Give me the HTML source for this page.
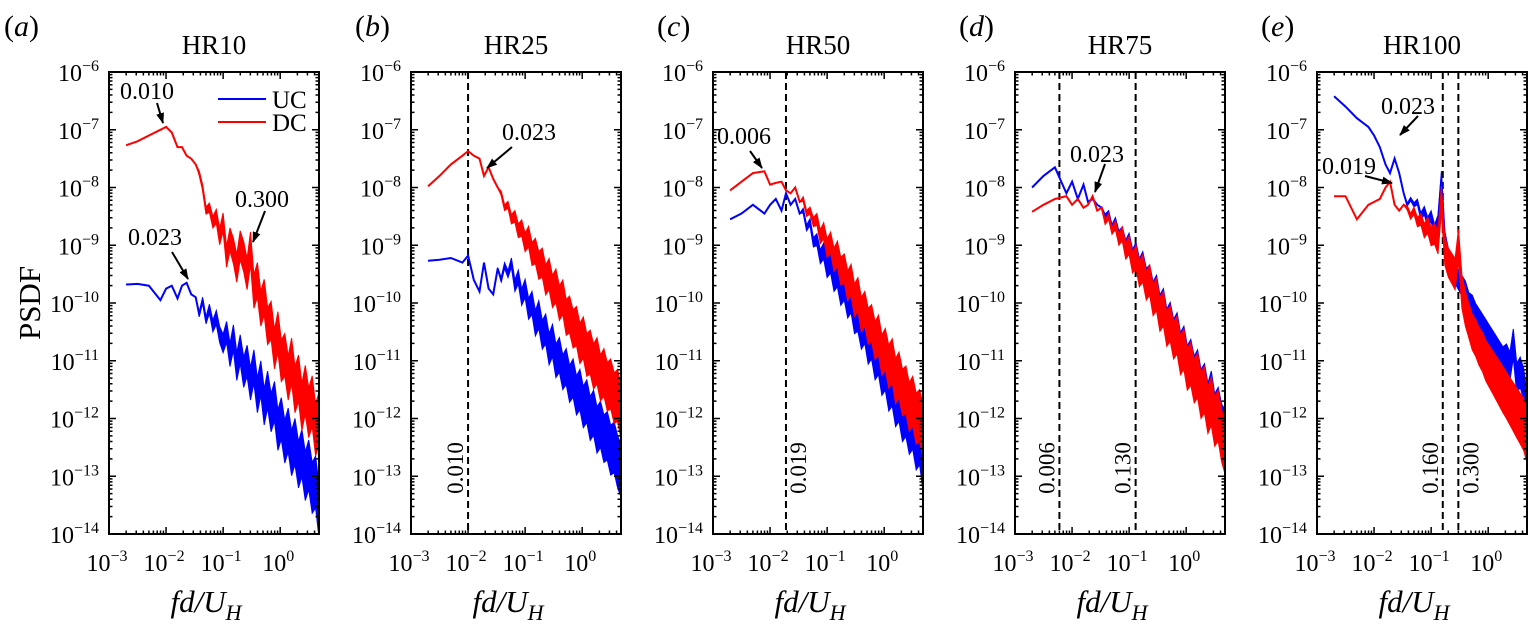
<!DOCTYPE html>
<html><head><meta charset="utf-8"><style>
html,body{margin:0;padding:0;background:#fff;}
svg{display:block;}
svg text{font-family:"Liberation Serif","DejaVu Serif",serif;}
</style></head><body>
<svg id="fig" width="1530" height="633" viewBox="0 0 1530 633"></svg>
<script>
const fx = [-2.7,-2.5,-2.3,-2.1,-2.0,-1.9,-1.8,-1.72,-1.64,-1.56,-1.48,-1.42,-1.36,-1.30,-1.24,-1.18,-1.12,-1.06,-1.00,-0.94,-0.88,-0.82,-0.76,-0.70,-0.64,-0.58,-0.52,-0.46,-0.40,-0.34,-0.28,-0.22,-0.16,-0.10,-0.04,0.02,0.08,0.14,0.20,0.26,0.32,0.38,0.44,0.50,0.56,0.62,0.68];
const noiseSpread = [0,0,0,0,0,0,0,0,0,0,0,0.04,0.05,0.06,0.08,0.1,0.12,0.14,0.16,0.18,0.2,0.22,0.24,0.25,0.26,0.27,0.28,0.29,0.3,0.3,0.31,0.32,0.33,0.34,0.35,0.36,0.37,0.38,0.39,0.4,0.4,0.41,0.42,0.43,0.44,0.45,0.46];
const aDC = [-7.27,-7.2,-7.1,-7.0,-6.95,-7.05,-7.3,-7.3,-7.45,-7.5,-7.6,-7.75,-8.0,-8.4,-8.35,-8.6,-8.5,-8.85,-8.6,-9.2,-8.9,-9.1,-9.4,-9.0,-9.2,-9.5,-9.05,-9.8,-9.6,-10.1,-9.9,-10.4,-10.3,-10.8,-10.5,-11.0,-10.9,-11.3,-11.0,-11.5,-11.3,-11.8,-11.5,-11.9,-11.7,-12.2,-12.0];
const aUC = [-9.68,-9.67,-9.7,-9.95,-9.75,-9.7,-9.92,-9.7,-9.65,-9.85,-9.9,-10.2,-9.95,-10.3,-10.1,-10.4,-10.25,-10.55,-10.7,-10.5,-10.9,-10.6,-11.1,-10.8,-11.2,-11.0,-11.4,-11.1,-11.6,-11.3,-11.8,-11.5,-11.9,-11.7,-12.2,-12.0,-12.4,-12.2,-12.6,-12.4,-12.8,-12.6,-13.0,-12.8,-13.2,-13.1,-13.6];
const bDC = [-7.98,-7.8,-7.6,-7.45,-7.37,-7.45,-7.5,-7.8,-7.65,-7.85,-8.0,-8.1,-8.35,-8.3,-8.55,-8.5,-8.75,-8.7,-8.95,-8.85,-9.15,-9.1,-9.35,-9.3,-9.6,-9.5,-9.8,-9.7,-10.0,-9.9,-10.25,-10.2,-10.45,-10.4,-10.7,-10.6,-10.9,-10.85,-11.1,-11.0,-11.3,-11.2,-11.45,-11.4,-11.65,-11.6,-11.9];
const bUC = [-9.27,-9.25,-9.22,-9.3,-9.18,-9.6,-9.8,-9.3,-9.75,-9.85,-9.4,-9.6,-9.35,-9.5,-9.3,-9.7,-9.55,-9.9,-9.75,-10.1,-10.0,-10.35,-10.2,-10.55,-10.45,-10.8,-10.65,-11.0,-10.9,-11.2,-11.1,-11.4,-11.3,-11.6,-11.5,-11.8,-11.7,-12.0,-11.9,-12.2,-12.1,-12.35,-12.3,-12.55,-12.5,-12.75,-12.9];
const cDC = [-8.05,-7.9,-7.75,-7.72,-7.95,-7.92,-7.9,-8.05,-8.1,-8.0,-8.25,-8.2,-8.45,-8.4,-8.6,-8.55,-8.85,-8.75,-9.05,-8.95,-9.25,-9.15,-9.45,-9.4,-9.7,-9.6,-9.95,-9.85,-10.2,-10.1,-10.4,-10.35,-10.65,-10.55,-10.9,-10.8,-11.1,-11.0,-11.35,-11.25,-11.55,-11.5,-11.8,-11.7,-12.0,-11.95,-12.2];
const cUC = [-8.55,-8.45,-8.3,-8.45,-8.3,-8.2,-8.4,-8.1,-8.3,-8.2,-8.45,-8.4,-8.7,-8.6,-8.95,-8.9,-9.2,-9.1,-9.4,-9.3,-9.6,-9.5,-9.8,-9.7,-10.0,-9.9,-10.25,-10.2,-10.5,-10.4,-10.75,-10.65,-11.0,-10.9,-11.25,-11.15,-11.5,-11.4,-11.75,-11.65,-12.0,-11.9,-12.2,-12.1,-12.45,-12.35,-12.8];
const dUC = [-8.0,-7.8,-7.65,-8.1,-7.9,-8.2,-7.95,-8.25,-8.2,-8.3,-8.35,-8.5,-8.45,-8.7,-8.6,-8.85,-8.8,-9.05,-8.95,-9.25,-9.15,-9.45,-9.35,-9.65,-9.6,-9.9,-9.8,-10.15,-10.05,-10.4,-10.3,-10.6,-10.5,-10.85,-10.75,-11.1,-11.0,-11.3,-11.2,-11.55,-11.45,-11.8,-11.6,-12.0,-11.9,-12.2,-12.3];
const dDC = [-8.42,-8.3,-8.2,-8.15,-8.3,-8.2,-8.35,-8.3,-8.15,-8.4,-8.35,-8.6,-8.5,-8.75,-8.65,-8.9,-8.8,-9.1,-9.0,-9.3,-9.2,-9.5,-9.4,-9.7,-9.6,-9.95,-9.85,-10.2,-10.1,-10.45,-10.35,-10.65,-10.55,-10.9,-10.8,-11.15,-11.05,-11.35,-11.25,-11.6,-11.5,-11.85,-11.7,-12.05,-11.95,-12.3,-12.5];
const eUC = [-6.42,-6.6,-6.8,-6.95,-7.1,-7.3,-7.6,-7.75,-7.5,-7.75,-8.1,-8.3,-8.2,-8.3,-8.25,-8.5,-8.4,-8.6,-8.5,-8.75,-8.6,-7.85,-8.9,-9.2,-9.3,-9.5,-9.6,-9.7,-9.8,-10.0,-10.05,-10.2,-10.3,-10.4,-10.5,-10.6,-10.7,-10.8,-10.9,-11.0,-10.95,-11.1,-10.7,-11.3,-11.2,-11.4,-11.8];
const eDC = [-8.15,-8.15,-8.55,-8.3,-8.25,-8.2,-8.0,-7.9,-8.3,-8.4,-8.3,-8.35,-8.5,-8.4,-8.6,-8.55,-8.75,-8.65,-8.85,-8.8,-8.95,-8.2,-9.1,-9.3,-9.4,-9.5,-9.0,-9.8,-10.1,-10.3,-10.5,-10.6,-10.75,-10.85,-11.0,-11.1,-11.2,-11.3,-11.4,-11.5,-11.6,-11.7,-11.8,-11.9,-12.0,-12.1,-12.3];
const panelTitles = ["HR10","HR25","HR50","HR75","HR100"];
const panelLetters = ["a","b","c","d","e"];
const yTickExps = [-6,-7,-8,-9,-10,-11,-12,-13,-14];
const xTickExps = [-3,-2,-1,0];
const dashedFreqs = [[],[0.010],[0.019],[0.006,0.130],[0.160,0.300]];
const dashedLabels = [[],["0.010"],["0.019"],["0.006","0.130"],["0.160","0.300"]];
const dashedLabelSide = [[],[-1],[1],[-1,-1],[-1,1]];

const NS="http://www.w3.org/2000/svg";
const svg=document.getElementById('fig');
function mk(tag,attrs,parent){const e=document.createElementNS(NS,tag);for(const k in attrs)e.setAttribute(k,attrs[k]);(parent||svg).appendChild(e);return e;}
const TOP=72,BOT=534,W=210,X0=109,DX=302;
const XMIN=-3,XMAX=0.68;
function xs(p,l){return X0+p*DX+(l-XMIN)/(XMAX-XMIN)*W;}
function ys(l){return TOP+(-6-l)/8*(BOT-TOP);}

const defs=mk('defs',{});
const mrk=mk('marker',{id:'ah',markerWidth:11,markerHeight:10,refX:10,refY:5,orient:'auto',markerUnits:'userSpaceOnUse'},defs);
mk('path',{d:'M0,1 L11,5 L0,9 Z',fill:'#000'},mrk);

const series=[[aUC,aDC],[bUC,bDC],[cUC,cDC],[dUC,dDC],[eUC,eDC]];
for(let p=0;p<5;p++){
  const g=mk('g',{});
  
  
  const L=X0+p*DX,R=L+W;
  const lt=mk('text',{x:(p===0?4:L-56),y:36,'font-size':30},g);
  
  
  lt.innerHTML='(<tspan font-style="italic">'+panelLetters[p]+'</tspan>)';
  const tt=mk('text',{x:L+W/2,y:54,'font-size':27,'text-anchor':'middle'},g);
  
  
  tt.textContent=panelTitles[p];
  const cp=mk('clipPath',{id:'clip'+p},defs);
  mk('rect',{x:L,y:TOP,width:W,height:BOT-TOP},cp);
  dashedFreqs[p].forEach((f,i)=>{
    const x=xs(p,Math.log10(f));
    const dl=mk('line',{x1:x,x2:x,y1:TOP,y2:BOT,stroke:'#000','stroke-width':2,'stroke-dasharray':'7,4'},g);
    
    
    const side=dashedLabelSide[p][i];
    const tx=mk('text',{x:0,y:0,'font-size':23,'text-anchor':'middle',transform:'translate('+(x+(side<0?-5:20))+',468) rotate(-90)'},g);
    
    
    tx.textContent=dashedLabels[p][i];
  });
  const cols=['#0000ff','#ff0000'];
  series[p].forEach((arr,si)=>{
    // noise band
    let up='',lo='';
    arr.forEach((v,i)=>{
      const sp=noiseSpread[i]*(si===0&&p===4?0.6:1);
      const x=xs(p,fx[i]).toFixed(1);
      up+=(i?'L':'M')+x+','+ys(v+sp).toFixed(1);
    });
    for(let i=arr.length-1;i>=0;i--){
      const sp=noiseSpread[i]*(si===0&&p===4?0.6:1);
      lo+='L'+xs(p,fx[i]).toFixed(1)+','+ys(arr[i]-sp).toFixed(1);
    }
    const band=mk('path',{d:up+lo+'Z',fill:cols[si],stroke:cols[si],'stroke-width':1,'clip-path':'url(#clip'+p+')'},g);
    
    
    let d='';
    arr.forEach((v,i)=>{d+=(i?'L':'M')+xs(p,fx[i]).toFixed(1)+','+ys(v).toFixed(1);});
    const pl=mk('path',{d:d,fill:'none',stroke:cols[si],'stroke-width':2,'clip-path':'url(#clip'+p+')'},g);
    
    
  });
  const fr=mk('rect',{x:L,y:TOP,width:W,height:BOT-TOP,fill:'none',stroke:'#000','stroke-width':2},g);
  
  
  let td='';
  yTickExps.forEach(e=>{
    const y=ys(e);
    td+='M'+L+','+y+'h7M'+R+','+y+'h-7';
    if(e>-14){for(let k=2;k<10;k++){const yy=ys(e-1+Math.log10(k));td+='M'+L+','+yy+'h3.5M'+R+','+yy+'h-3.5';}}
    const t=mk('text',{x:L-10,y:y+9,'font-size':24,'text-anchor':'end'},g);
    
    
    t.innerHTML='10<tspan dy="-10" font-size="16">\u2212'+(-e)+'</tspan>';
  });
  xTickExps.forEach(e=>{
    const x=xs(p,e);
    td+='M'+x+','+BOT+'v-7M'+x+','+TOP+'v7';
    for(let k=2;k<10;k++){const l=e+Math.log10(k);if(l<=XMAX){const xx=xs(p,l);td+='M'+xx+','+BOT+'v-3.5M'+xx+','+TOP+'v3.5';}}
    const t=mk('text',{x:x+(e<0?-2:-2),y:571,'font-size':24,'text-anchor':'middle'},g);
    
    
    t.innerHTML='10<tspan dy="-10" font-size="16">'+(e<0?'\u2212'+(-e):'0')+'</tspan>';
  });
  mk('path',{d:td,stroke:'#000','stroke-width':1.5,fill:'none'},g);
  const xl=mk('text',{x:L+W/2-8,y:612,'font-size':31,'font-style':'italic','text-anchor':'middle'},g);
  
  
  xl.innerHTML='fd/U<tspan dy="8" font-size="22">H</tspan>';
}
const yl=mk('text',{x:0,y:0,'font-size':31,'text-anchor':'middle',transform:'translate(40,303) rotate(-90)'});


yl.textContent='PSDF';
const lg=mk('g',{});


mk('line',{x1:218,x2:266,y1:99,y2:99,stroke:'#0000ff','stroke-width':2},lg);
mk('line',{x1:218,x2:266,y1:122,y2:122,stroke:'#ff0000','stroke-width':2},lg);
const l1=mk('text',{x:272,y:108,'font-size':25},lg);l1.textContent='UC';


const l2=mk('text',{x:272,y:131,'font-size':25},lg);l2.textContent='DC';


const notes=[
 ["0.010",120,99,157,103,163,123],
 ["0.300",235,207,265,211,253,242],
 ["0.023",128,245,172,252,188,279],
 ["0.023",502,140,512,147,487,168],
 ["0.006",717,144,750,151,762,168],
 ["0.023",1070,162,1105,164,1095,192],
 ["0.023",1381,114,1418,116,1400,135],
 ["0.019",1322,174,1365,176,1392,183]
];
notes.forEach(n=>{
  const t=mk('text',{x:n[1],y:n[2],'font-size':24});
  
  
  t.textContent=n[0];
  const a=mk('line',{x1:n[3],y1:n[4],x2:n[5],y2:n[6],stroke:'#000','stroke-width':2,'marker-end':'url(#ah)'});
  
  
});
</script>
</body></html>
